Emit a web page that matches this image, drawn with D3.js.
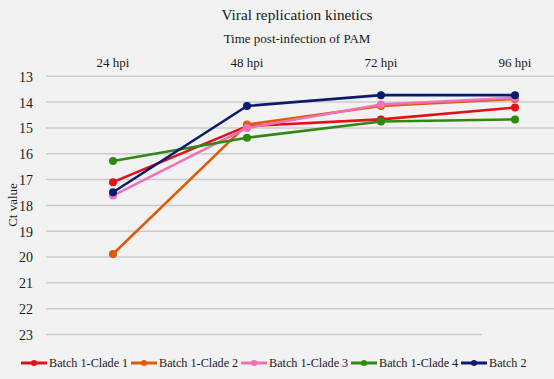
<!DOCTYPE html>
<html>
<head>
<meta charset="utf-8">
<script src="https://cdn.jsdelivr.net/npm/d3@7"></script>
<style>
  html, body { margin: 0; padding: 0; background: #f2f2f2; }
  svg { display: block; }
  svg text { font-family: "Liberation Serif", "Times New Roman", Times, Tinos, "DejaVu Serif", serif !important; fill: #1a1a1a; }
</style>
</head>
<body>
<svg id="chart" width="554" height="379"></svg>
<script>
const categories = ["24 hpi", "48 hpi", "72 hpi", "96 hpi"];
const seriesNames = ["Batch 1-Clade 1", "Batch 1-Clade 2", "Batch 1-Clade 3", "Batch 1-Clade 4", "Batch 2"];
const clade1 = [17.1, 14.93, 14.67, 14.21];
const clade2 = [19.88, 14.87, 14.15, 13.88];
const clade3 = [17.62, 15.0, 14.09, 13.83];
const clade4 = [16.28, 15.38, 14.75, 14.67];
const batch2 = [17.49, 14.15, 13.73, 13.73];
const yTicks = [13, 14, 15, 16, 17, 18, 19, 20, 21, 22, 23];
const colors = ["#e3101a", "#e05a0a", "#ef72b8", "#2f8a12", "#0b1a6b"];

const allSeries = [clade1, clade2, clade3, clade4, batch2];

const svg = d3.select("#chart");
svg.append("rect").attr("width", 554).attr("height", 379).attr("fill", "#f2f2f2");

const x = d3.scaleBand().domain(categories).range([46, 582]).padding(0);
const y = d3.scaleLinear().domain([13, 23]).range([76.3, 334.5]);

// gridlines
svg.append("g").selectAll("line").data(yTicks).join("line")
  .attr("x1", 46).attr("x2", d => d === 23 ? 482 : 554)
  .attr("y1", d => y(d)).attr("y2", d => y(d))
  .attr("stroke", "#cbcbcb").attr("stroke-width", 1.5);

// y axis labels
const yAxis = d3.axisLeft(y).tickValues(yTicks).tickSize(0).tickPadding(0);
const gy = svg.append("g").attr("transform", "translate(33,0)").call(yAxis);
gy.attr("font-family", null);
gy.select(".domain").remove();
gy.selectAll("text").attr("font-size", 14).attr("fill", "#1a1a1a").attr("dy", "0.35em");

// x axis labels on top
const xAxis = d3.axisTop(x).tickSize(0).tickPadding(0);
const gx = svg.append("g").attr("transform", "translate(0,67)").call(xAxis);
gx.attr("font-family", null);
gx.select(".domain").remove();
gx.selectAll("text").attr("font-size", 13).attr("fill", "#1a1a1a");

// titles
svg.append("text").attr("x", 297).attr("y", 20).attr("text-anchor", "middle")
  .attr("font-size", 15.3).text("Viral replication kinetics");
svg.append("text").attr("x", 297).attr("y", 43).attr("text-anchor", "middle")
  .attr("font-size", 13).text("Time post-infection of PAM");
svg.append("text").attr("transform", "translate(17,205) rotate(-90)").attr("text-anchor", "middle")
  .attr("font-size", 13).text("Ct value");

// series
const cx = c => x(c) + x.bandwidth() / 2;
const line = d3.line().x((d, i) => cx(categories[i])).y(d => y(d));
allSeries.forEach((vals, si) => {
  const g = svg.append("g");
  g.append("path").datum(vals).attr("d", line).attr("fill", "none")
    .attr("stroke", colors[si]).attr("stroke-width", 2.6).attr("stroke-linejoin", "round");
  g.selectAll("circle").data(vals).join("circle")
    .attr("cx", (d, i) => cx(categories[i])).attr("cy", d => y(d))
    .attr("r", 4).attr("fill", colors[si]);
});

// legend
const legend = svg.append("g").attr("transform", "translate(21,363)");
seriesNames.forEach((name, i) => {
  const g = legend.append("g").attr("transform", `translate(${i * 110},0)`);
  g.append("line").attr("x1", 0).attr("x2", 26).attr("y1", 0).attr("y2", 0)
    .attr("stroke", colors[i]).attr("stroke-width", 3);
  g.append("circle").attr("cx", 13).attr("cy", 0).attr("r", 3).attr("fill", colors[i]);
  g.append("text").attr("x", 28).attr("y", 0).attr("dy", "0.35em")
    .attr("font-size", 12.2).text(name);
});
</script>
</body>
</html>
